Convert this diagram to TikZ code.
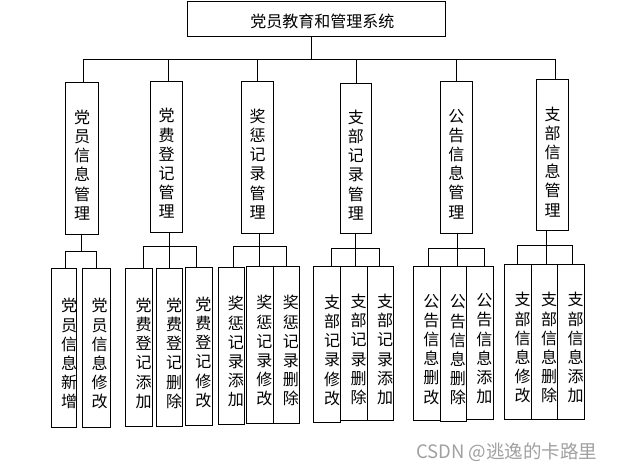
\documentclass[tikz,border=0pt]{standalone}
\usepackage{fontspec}
\newfontfamily\cjk{Noto Sans CJK SC}
\definecolor{wmgray}{RGB}{160,160,160}
\newcommand\bx[8]{%
  \node[box, minimum width={#4pt-#2pt}, minimum height={#5pt-#3pt}] (#1) at ({(#2+#4)/2},{(#3+#5)/2}) {};
  \node[vt] (#1t) at ([xshift=#7pt,yshift=#8pt]#1.center) {#6};}
\begin{document}
\begin{tikzpicture}[x=1pt,y=-1pt,
  box/.style={draw, line width=1pt, inner sep=0pt},
  vt/.style={align=center, inner sep=0pt, font=\cjk\fontsize{16}{19.2}\selectfont},
  ln/.style={line width=1pt}]
\useasboundingbox (0,0) rectangle (618,471);
% title
\node[box, minimum width=258pt, minimum height=35pt] (top) at (316.3,18.5) {};
\node[font=\cjk\fontsize{16}{19}\selectfont, inner sep=0pt] (topt) at ([xshift=6pt,yshift=-3pt]top.center) {党员教育和管理系统};
% level 2
\bx{m1}{65.5}{82}{98.7}{234}{党\\员\\信\\息\\管\\理}{0}{-7}
\bx{m2}{150.5}{81}{182.7}{232}{党\\费\\登\\记\\管\\理}{0}{-7}
\bx{m3}{241.7}{81}{273.7}{233}{奖\\惩\\记\\录\\管\\理}{0}{-7}
\bx{m4}{340.3}{83}{371.3}{233}{支\\部\\记\\录\\管\\理}{0}{-7}
\bx{m5}{440.3}{81}{472.3}{233}{公\\告\\信\\息\\管\\理}{0}{-7}
\bx{m6}{536.3}{79}{568.7}{230.7}{支\\部\\信\\息\\管\\理}{0}{-7}
% level 3
\bx{a1}{51.3}{268.3}{76.7}{427.3}{党\\员\\信\\息\\新\\增}{5}{-6}
\bx{a2}{82.7}{268.3}{110.3}{427.3}{党\\员\\信\\息\\修\\改}{3}{-6}
\bx{b1}{125.7}{268.3}{152.7}{426.3}{党\\费\\登\\记\\添\\加}{4.5}{-6}
\bx{b2}{156.7}{268.3}{182.7}{426.3}{党\\费\\登\\记\\删\\除}{4.5}{-6}
\bx{b3}{185.3}{267.3}{212.3}{425.3}{党\\费\\登\\记\\修\\改}{4.5}{-6}
\bx{c1}{218.3}{267.3}{244.3}{424.3}{奖\\惩\\记\\录\\添\\加}{4.5}{-6}
\bx{c2}{246.3}{266.3}{273.3}{423.3}{奖\\惩\\记\\录\\修\\改}{4.5}{-6}
\bx{c3}{273.3}{266.3}{299.3}{423.3}{奖\\惩\\记\\录\\删\\除}{4.5}{-6}
\bx{d1}{313.3}{266.3}{340.7}{422.3}{支\\部\\记\\录\\修\\改}{5}{-6}
\bx{d2}{340.7}{266.3}{367.7}{420.7}{支\\部\\记\\录\\删\\除}{4.5}{-6}
\bx{d3}{367.7}{266.3}{393.3}{420.7}{支\\部\\记\\录\\添\\加}{4.5}{-6}
\bx{e1}{413.3}{266.3}{440.3}{420.3}{公\\告\\信\\息\\删\\改}{4.5}{-6}
\bx{e2}{440.3}{266.3}{466.3}{421.7}{公\\告\\信\\息\\删\\除}{4.5}{-6}
\bx{e3}{466.3}{266.3}{493.3}{419.3}{公\\告\\信\\息\\添\\加}{4.5}{-6}
\bx{f1}{504.3}{264.3}{531.7}{419.3}{支\\部\\信\\息\\修\\改}{4.5}{-6}
\bx{f2}{531.7}{264.3}{557.7}{419.3}{支\\部\\信\\息\\删\\除}{4.5}{-6}
\bx{f3}{557.7}{264.3}{584.3}{419.3}{支\\部\\信\\息\\添\\加}{4.5}{-6}
% top bus
\coordinate (bus) at (311.7,59);
\coordinate (busL) at (83,59);
\coordinate (busR) at (555.7,59);
\draw[ln] (top.south -| bus) -- (bus);
\draw[ln] (busL) -- (busR);
\foreach \n/\x in {m1/83, m2/168.7, m3/257.3, m4/356.3, m5/456.3, m6/555.7}{
  \coordinate (d\n) at (\x,59);
  \draw[ln] (d\n) -- (d\n |- \n.north);
}
% sub buses: parent / bus y / center x / left x / right x
\foreach \p/\y/\c/\l/\r in {m1/251.3/81.7/65.3/96.7, m2/246.3/169.3/143.3/196.3, m3/246.3/259.7/233.7/286.3, m4/248.3/355.3/331.7/379.3, m5/248.3/457/428.7/484.3, m6/245.7/546.3/517.3/572.7}{
  \coordinate (c\p) at (\c,\y);
  \coordinate (l\p) at (\l,\y);
  \coordinate (r\p) at (\r,\y);
  \draw[ln] (\p.south -| c\p) -- (c\p);
  \draw[ln] (l\p) -- (r\p);
}
\draw[ln] (lm1) -- (lm1 |- a1.north);
\draw[ln] (rm1) -- (rm1 |- a2.north);
\foreach \p/\a/\b/\cc in {m2/b1/b2/b3, m3/c1/c2/c3, m4/d1/d2/d3, m5/e1/e2/e3, m6/f1/f2/f3}{
  \draw[ln] (l\p) -- (l\p |- \a.north);
  \draw[ln] (c\p) -- (c\p |- \b.north);
  \draw[ln] (r\p) -- (r\p |- \cc.north);
}
% watermark
\node[font=\cjk\fontsize{18.5}{21}\selectfont, text=wmgray, inner sep=0pt] (wm) at (506.7,452) {CSDN @逃逸的卡路里};
\end{tikzpicture}
\end{document}
